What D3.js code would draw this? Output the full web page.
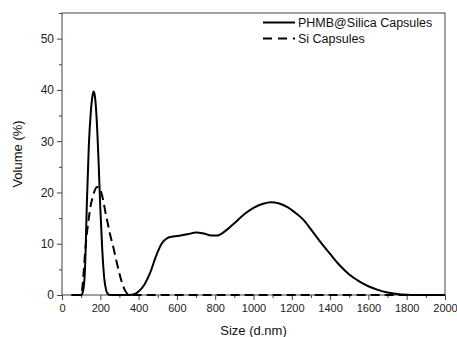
<!DOCTYPE html>
<html>
<head>
<meta charset="utf-8">
<script src="https://cdn.jsdelivr.net/npm/d3@7"></script>
<style>
  html, body { margin: 0; padding: 0; background: #fff; }
  svg { display: block; font-family: "Liberation Sans", Arial, sans-serif; }
</style>
</head>
<body>
<svg id="chart" width="457" height="337"></svg>
<script>
// Particle size distribution (volume %), size in d.nm
const seriesNames = ["PHMB@Silica Capsules", "Si Capsules"];

const phmbSize = [50, 100, 110, 120, 130, 140, 150, 160, 165, 170, 180, 190, 200, 210, 220, 230, 240, 250,
  350, 380, 400, 430, 460, 490, 520, 550, 580, 620, 660, 700, 740, 780, 810, 850, 900, 950, 1000,
  1050, 1090, 1130, 1180, 1220, 1260, 1300, 1350, 1400, 1450, 1500, 1550, 1600, 1650, 1700, 1750,
  1800, 1850, 2000];
const phmbVolume = [0, 0, 0.8, 5, 18, 29, 35.5, 39, 39.7, 39.2, 35, 27, 17, 9, 3.5, 1, 0.2, 0,
  0, 0.2, 0.7, 2, 4.3, 7.5, 10, 11.1, 11.4, 11.6, 11.9, 12.2, 12, 11.6, 11.6, 12.4, 14, 15.7, 17,
  17.8, 18.1, 17.9, 17.1, 16, 14.7, 12.8, 10.3, 8, 5.8, 4, 2.7, 1.7, 1, 0.5, 0.2,
  0.05, 0, 0];

const siSize = [50, 100, 110, 120, 130, 140, 150, 160, 170, 180, 190, 200, 210, 220, 230, 240, 250,
  260, 270, 280, 290, 300, 310, 320, 330, 340, 350, 2000];
const siVolume = [0, 0, 3, 8, 12, 15, 17.5, 19, 20.3, 21, 21.1, 20.5, 19.3, 17.5, 15.5, 13.8, 12,
  10.5, 9, 7.3, 5.7, 4.2, 2.8, 1.7, 0.8, 0.3, 0, 0];

const xTicks = [0, 200, 400, 600, 800, 1000, 1200, 1400, 1600, 1800, 2000];
const yTicks = [0, 10, 20, 30, 40, 50];

const svg = d3.select("#chart");
const plot = { left: 62, top: 13, right: 445, bottom: 295 };

const x = d3.scaleLinear().domain([0, 2000]).range([plot.left, plot.right]);
const y = d3.scaleLinear().domain([0, 55]).range([plot.bottom, plot.top]);

const frameColor = "#444";

// minor ticks
const xMinor = d3.range(100, 2000, 200);
const yMinor = d3.range(5, 56, 10);

const gx = svg.append("g").attr("transform", `translate(0,${plot.bottom})`);
gx.call(d3.axisBottom(x).tickValues(xMinor).tickSize(3).tickFormat(""));
gx.call(g => g.select(".domain").remove());
const gx2 = svg.append("g").attr("transform", `translate(0,${plot.bottom})`);
gx2.call(d3.axisBottom(x).tickValues(xTicks).tickSize(5).tickPadding(4).tickFormat(d3.format("d")));
gx2.select(".domain").remove();

const gy = svg.append("g").attr("transform", `translate(${plot.left},0)`);
gy.call(d3.axisLeft(y).tickValues(yMinor).tickSize(3).tickFormat(""));
gy.select(".domain").remove();
const gy2 = svg.append("g").attr("transform", `translate(${plot.left},0)`);
gy2.call(d3.axisLeft(y).tickValues(yTicks).tickSize(5).tickPadding(3));
gy2.select(".domain").remove();

svg.selectAll(".tick line").attr("stroke", frameColor);
svg.selectAll(".tick text").attr("fill", "#222").style("font-size", "11px")
  .style("font-family", "'Liberation Sans', Arial, sans-serif");
gy2.selectAll(".tick text").style("font-size", "12px");

// frame
svg.append("rect")
  .attr("x", plot.left).attr("y", plot.top)
  .attr("width", plot.right - plot.left).attr("height", plot.bottom - plot.top)
  .attr("fill", "none").attr("stroke", frameColor).attr("stroke-width", 1);

const line = d3.line().x(d => x(d[0])).y(d => y(d[1])).curve(d3.curveMonotoneX);

svg.append("path")
  .datum(d3.zip(siSize, siVolume))
  .attr("d", line)
  .attr("fill", "none").attr("stroke", "#000").attr("stroke-width", 2)
  .attr("stroke-dasharray", "9,5");

svg.append("path")
  .datum(d3.zip(phmbSize, phmbVolume))
  .attr("d", line)
  .attr("fill", "none").attr("stroke", "#000").attr("stroke-width", 2);

// legend
const legend = svg.append("g");
const legendRows = [
  { name: seriesNames[0], dash: null, y: 22.5 },
  { name: seriesNames[1], dash: "9,6", y: 38.5 }
];
legendRows.forEach(r => {
  legend.append("line")
    .attr("x1", 263).attr("x2", 295).attr("y1", r.y).attr("y2", r.y)
    .attr("stroke", "#000").attr("stroke-width", 2)
    .attr("stroke-dasharray", r.dash);
  legend.append("text")
    .attr("x", 298).attr("y", r.y + 4.5)
    .style("font-size", "12.5px").attr("fill", "#111")
    .text(r.name);
});

// axis titles
svg.append("text")
  .attr("x", (plot.left + plot.right) / 2).attr("y", 335)
  .attr("text-anchor", "middle").style("font-size", "13px").attr("fill", "#111")
  .text("Size (d.nm)");

svg.append("text")
  .attr("transform", `translate(22,${(plot.top + plot.bottom) / 2}) rotate(-90)`)
  .attr("text-anchor", "middle").style("font-size", "13px").attr("fill", "#111")
  .text("Volume (%)");
</script>
</body>
</html>
